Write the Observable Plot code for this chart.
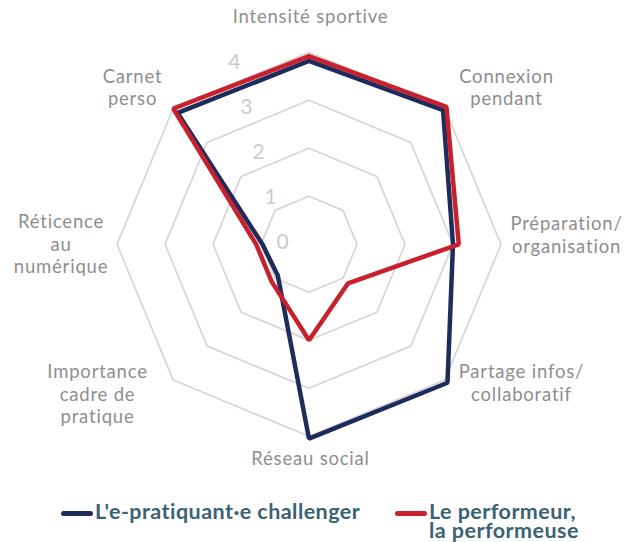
<!DOCTYPE html>
<html>
<head>
<meta charset="utf-8">
<script src="https://cdn.jsdelivr.net/npm/d3@7"></script>
<script src="https://cdn.jsdelivr.net/npm/@observablehq/plot@0.6"></script>
<style>
  html, body { margin: 0; padding: 0; background: #fff; }
  #wrap { position: relative; width: 637px; height: 542px; font-family: Lato, "Open Sans", sans-serif; }
  .leg { position: absolute; display: flex; align-items: flex-start; }
  .sw { width: 32px; height: 5px; border-radius: 3px; margin-top: 8.5px; margin-right: 2px; }
  .lt { font-weight: 700; font-size: 21.5px; line-height: 19px; letter-spacing: 0.45px; color: #3a6275; white-space: nowrap; }
</style>
</head>
<body>
<div id="wrap">
  <div id="chart"></div>
</div>
<script>
// ---- data ----
const axes = [
  "Intensité sportive",
  "Connexion\npendant",
  "Préparation/\norganisation",
  "Partage infos/\ncollaboratif",
  "Réseau social",
  "Importance\ncadre de\npratique",
  "Réticence\nau\nnumérique",
  "Carnet\nperso"
];
const challenger = [3.82, 3.95, 3.0, 4.08, 4.05, 0.92, 0.97, 3.87];
const performeur = [3.92, 4.05, 3.12, 1.15, 2.0, 1.1, 1.1, 4.0];
const gridLevels = [1, 2, 3, 4];
const tickLabels = [0, 1, 2, 3, 4];
const seriesNames = ["L'e-pratiquant·e challenger", "Le performeur,\nla performeuse"];
const seriesColors = ["#1e2c5c", "#c8202c"];

// ---- layout ----
const W = 637, H = 490, CX = 308.5, CY = 243.8, UNIT = 48;
const maxLevel = 4;
const labelNudge = [ // px offsets of label block centre from outer vertex
  [1.5, -36], [61.7, -21.5], [65.5, -10], [76.7, 2.4],
  [1.5, 22], [-75.7, 13.4], [-56, -0.8], [-40.7, -21.7]
];
const n = axes.length;
const ang = i => (2 * Math.PI * i) / n;
const px = (i, v) => v * Math.sin(ang(i));
const py = (i, v) => v * Math.cos(ang(i));

const gridPts = gridLevels.flatMap(l =>
  d3.range(n + 1).map(i => ({level: l, x: px(i % n, l), y: py(i % n, l)})));
const seriesPts = (vals, s) => d3.range(n + 1).map(i => ({s, x: px(i % n, vals[i % n]), y: py(i % n, vals[i % n])}));
const labelAngle = -15 * Math.PI / 180;
const labelStep = 0.97;

const chart = Plot.plot({
  width: W, height: H, margin: 0,
  style: {fontFamily: "Lato, 'Open Sans', sans-serif", background: "#fff", overflow: "visible", letterSpacing: "0.8px"},
  x: {domain: [-CX / UNIT, (W - CX) / UNIT], axis: null},
  y: {domain: [-(H - CY) / UNIT, CY / UNIT], axis: null},
  marks: [
    Plot.line(gridPts, {x: "x", y: "y", z: "level", stroke: "#d5d5d5", strokeWidth: 1.7, curve: "linear"}),
    Plot.text(tickLabels, {
      x: v => labelStep * v * Math.sin(labelAngle), y: v => labelStep * v * Math.cos(labelAngle),
      dx: -26, dy: -2, text: d => String(d), fill: "#cbcbcb", fontSize: 21
    }),
    Plot.line(seriesPts(challenger, 0), {x: "x", y: "y", stroke: seriesColors[0], strokeWidth: 4.5, strokeLinejoin: "miter"}),
    Plot.line(seriesPts(performeur, 1), {x: "x", y: "y", stroke: seriesColors[1], strokeWidth: 4.5, strokeLinejoin: "miter"}),
    Plot.text(axes.map((a, i) => i), {
      x: i => px(i, maxLevel) + labelNudge[i][0] / UNIT,
      y: i => py(i, maxLevel) - labelNudge[i][1] / UNIT,
      text: i => axes[i], textAnchor: "middle", lineAnchor: "middle",
      lineHeight: 1.2, fill: "#8e8e8e", fontSize: 18.5
    })
  ]
});
document.getElementById("chart").appendChild(chart);

// legend
const legPos = [[61, 502], [395, 502]];
seriesNames.forEach((name, k) => {
  const d = document.createElement("div");
  d.className = "leg";
  d.style.left = legPos[k][0] + "px";
  d.style.top = legPos[k][1] + "px";
  const sw = document.createElement("div");
  sw.className = "sw"; sw.style.background = seriesColors[k];
  const t = document.createElement("div");
  t.className = "lt"; t.innerText = name;
  d.appendChild(sw); d.appendChild(t);
  document.getElementById("wrap").appendChild(d);
});
</script>
</body>
</html>
